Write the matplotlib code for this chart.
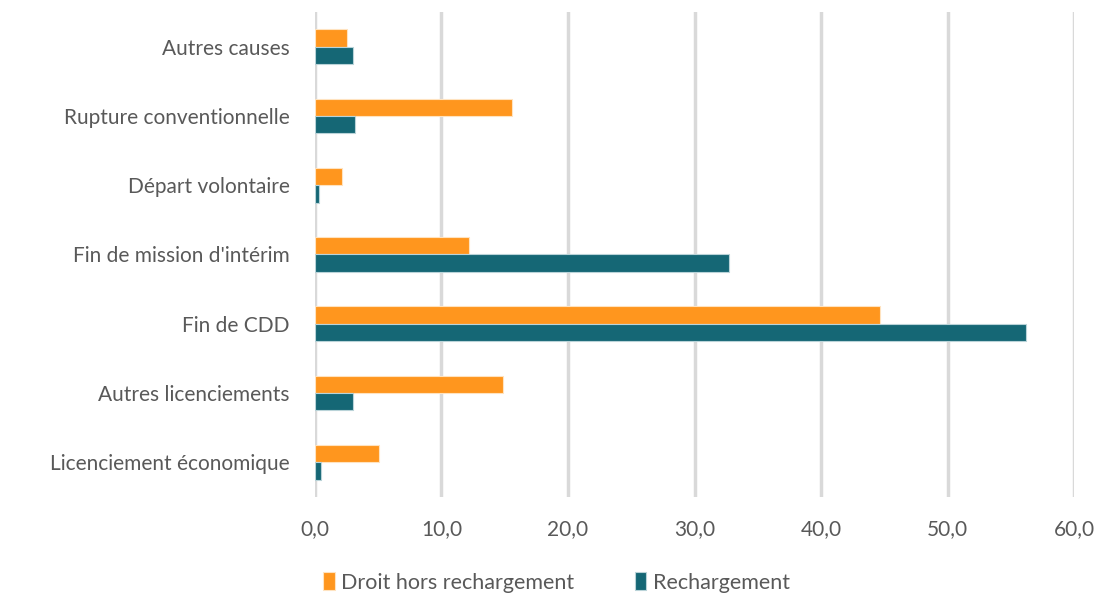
import numpy as np
import matplotlib.pyplot as plt

plt.rcParams['font.family'] = ['Lato', 'DejaVu Sans']

# data
categories = ['Licenciement économique', 'Autres licenciements', 'Fin de CDD',
              "Fin de mission d'intérim", 'Départ volontaire',
              'Rupture conventionnelle', 'Autres causes']
droit_hors = [5.1, 14.9, 44.7, 12.2, 2.1, 15.6, 2.5]
rechargement = [0.5, 3.0, 56.2, 32.7, 0.3, 3.2, 3.0]
xticks = [0, 10, 20, 30, 40, 50, 60]

orange = '#FF961E'
teal = '#156775'
grey_txt = '#595959'

fig = plt.figure(figsize=(10.99, 5.99), dpi=100)
ax = fig.add_axes([0.2866, 0.1703, 0.6907, 0.8097])

y = np.arange(len(categories))
h = 0.25
ax.barh(y + h / 2, droit_hors, height=h, color=orange, edgecolor='#FFE3C0',
        linewidth=0.8, label='Droit hors rechargement', zorder=3)
ax.barh(y - h / 2, rechargement, height=h, color=teal, edgecolor='#B9D3D8',
        linewidth=0.8, label='Rechargement', zorder=3)

ax.set_xlim(0, 60)
ax.set_ylim(-0.5, 6.5)
ax.set_xticks(xticks)
ax.set_xticklabels([f'{v:.1f}'.replace('.', ',') for v in xticks])
ax.set_yticks(y)
ax.set_yticklabels(categories)
ax.tick_params(axis='both', length=0, labelsize=15, colors=grey_txt)
ax.tick_params(axis='x', pad=16)
ax.tick_params(axis='y', pad=18)

ax.grid(axis='x', color='#D9D9D9', linewidth=2.5, zorder=0)
for s in ax.spines.values():
    s.set_visible(False)

ax.legend(loc='upper center', bbox_to_anchor=(0.318, -0.115), ncol=2,
          frameon=False, fontsize=15.5, labelcolor=grey_txt,
          handlelength=0.55, handleheight=0.9, handletextpad=0.3,
          columnspacing=2.8)

fig.savefig('out.png', dpi=100)
